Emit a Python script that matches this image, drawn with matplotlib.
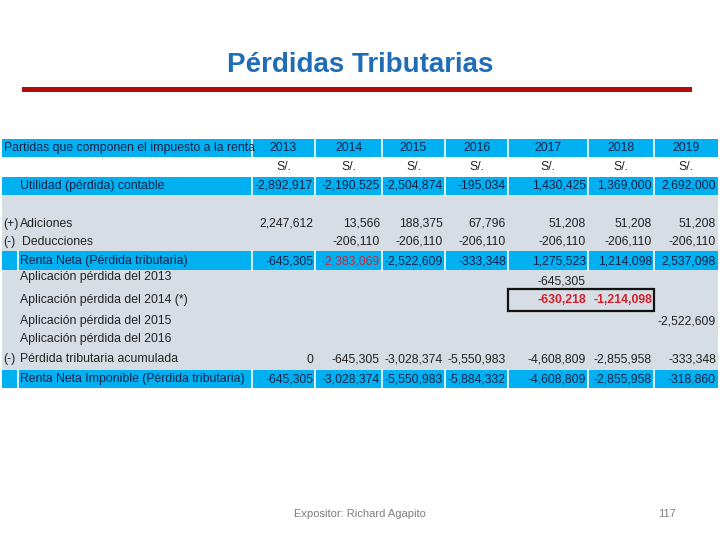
import matplotlib
matplotlib.use("Agg")
import matplotlib.pyplot as plt
from matplotlib.patches import Rectangle

# data (None = empty cell)
years = ['2013', '2014', '2015', '2016', '2017', '2018', '2019']
utilidad = [-2892917, -2190525, -2504874, -195034, 1430425, 1369000, 2692000]
adiciones = [2247612, 13566, 188375, 67796, 51208, 51208, 51208]
deducciones = [None, -206110, -206110, -206110, -206110, -206110, -206110]
renta_neta = [-645305, -2383069, -2522609, -333348, 1275523, 1214098, 2537098]
aplic_2013 = [None, None, None, None, -645305, None, None]
aplic_2014 = [None, None, None, None, -630218, -1214098, None]
aplic_2015 = [None, None, None, None, None, None, -2522609]
aplic_2016 = [None] * 7
perdida_acum = [0, -645305, -3028374, -5550983, -4608809, -2855958, -333348]
renta_imponible = [-645305, -3028374, -5550983, -5884332, -4608809, -2855958, -318860]

BLUE = '#00B0F0'
GREY = '#D7DDE5'
NAVY = '#15224a'
DARK = '#222222'
RED = '#D41F2A'
FONT = ['Liberation Sans', 'DejaVu Sans']
FS = 8.8

fig = plt.figure(figsize=(7.2, 5.4), dpi=100)
ax = fig.add_axes([0, 0, 1, 1])
ax.set_xlim(0, 720)
ax.set_ylim(540, 0)
ax.axis('off')

# title and red rule
ax.text(360, 65, 'Pérdidas Tributarias', ha='center', va='center', fontsize=20,
        fontweight='bold', color='#1F6DB6', family=FONT)
ax.add_patch(Rectangle((22, 86.5), 670, 5, color='#B40A0A', lw=0))

edges = [2, 252, 315, 382, 445, 508, 588, 654, 718]
left, right = edges[0], edges[-1]

# backgrounds
ax.add_patch(Rectangle((left, 195), right - left, 176, color=GREY, lw=0))
for top, bot in [(139, 157), (177, 195), (251, 270), (370, 388)]:
    ax.add_patch(Rectangle((left, top), right - left, bot - top, color=BLUE, lw=0))
    for x in edges[1:-1]:
        ax.plot([x, x], [top, bot], color='white', lw=1.2)
for top, bot in [(251, 270), (370, 388)]:
    ax.plot([18, 18], [top, bot], color='white', lw=1.2)


def txt(x, y, s, ha='left', color=NAVY, weight='normal'):
    ax.text(x, y, s, ha=ha, va='center', fontsize=FS, color=color,
            fontweight=weight, family=FONT)


def row(y, vals, color=NAVY, weight='normal', colors=None):
    for i, v in enumerate(vals):
        if v is None:
            continue
        c = colors[i] if colors else color
        txt(edges[i + 2] - 2, y, f'{v:,}', ha='right', color=c, weight=weight)


# header
txt(4, 148, 'Partidas que componen el impuesto a la renta')
for i, yr in enumerate(years):
    cx = (edges[i + 1] + edges[i + 2]) / 2
    txt(cx, 148, yr, ha='center')
    txt(cx, 167, 'S/.', ha='center', color=DARK)

txt(20, 186, 'Utilidad (pérdida) contable')
row(186, utilidad)

txt(3, 224, '(+)', color=DARK)
txt(20, 224, 'Adiciones', color=DARK)
row(224, adiciones, color=DARK)
txt(3, 242, '(-)', color=DARK)
txt(22, 242, 'Deducciones', color=DARK)
row(242, deducciones, color=DARK)

txt(20, 261, 'Renta Neta (Pérdida tributaria)')
rn_colors = [NAVY, '#C4283C'] + [NAVY] * 5
row(261, renta_neta, colors=rn_colors)

txt(20, 277, 'Aplicación pérdida del 2013', color=DARK)
row(282, aplic_2013, color=DARK)
txt(20, 300, 'Aplicación pérdida del 2014 (*)', color=DARK)
row(300, aplic_2014, color=RED, weight='bold')
ax.add_patch(Rectangle((508, 289), 146, 22, fill=False, ec='#111111', lw=1.6))
txt(20, 321, 'Aplicación pérdida del 2015', color=DARK)
row(322, aplic_2015, color=DARK)
txt(20, 339, 'Aplicación pérdida del 2016', color=DARK)
row(339, aplic_2016, color=DARK)
txt(3, 359, '(-)', color=DARK)
txt(20, 359, 'Pérdida tributaria acumulada', color=DARK)
row(360, perdida_acum, color=DARK)

txt(20, 379, 'Renta Neta Imponible (Pérdida tributaria)')
row(379, renta_imponible)

# footer
ax.text(360, 514, 'Expositor: Richard Agapito', ha='center', va='center', fontsize=8,
        color='#7f7f7f', family=FONT)
ax.text(667, 514, '117', ha='center', va='center', fontsize=8,
        color='#7f7f7f', family=FONT)

plt.savefig('out.png', dpi=100)
